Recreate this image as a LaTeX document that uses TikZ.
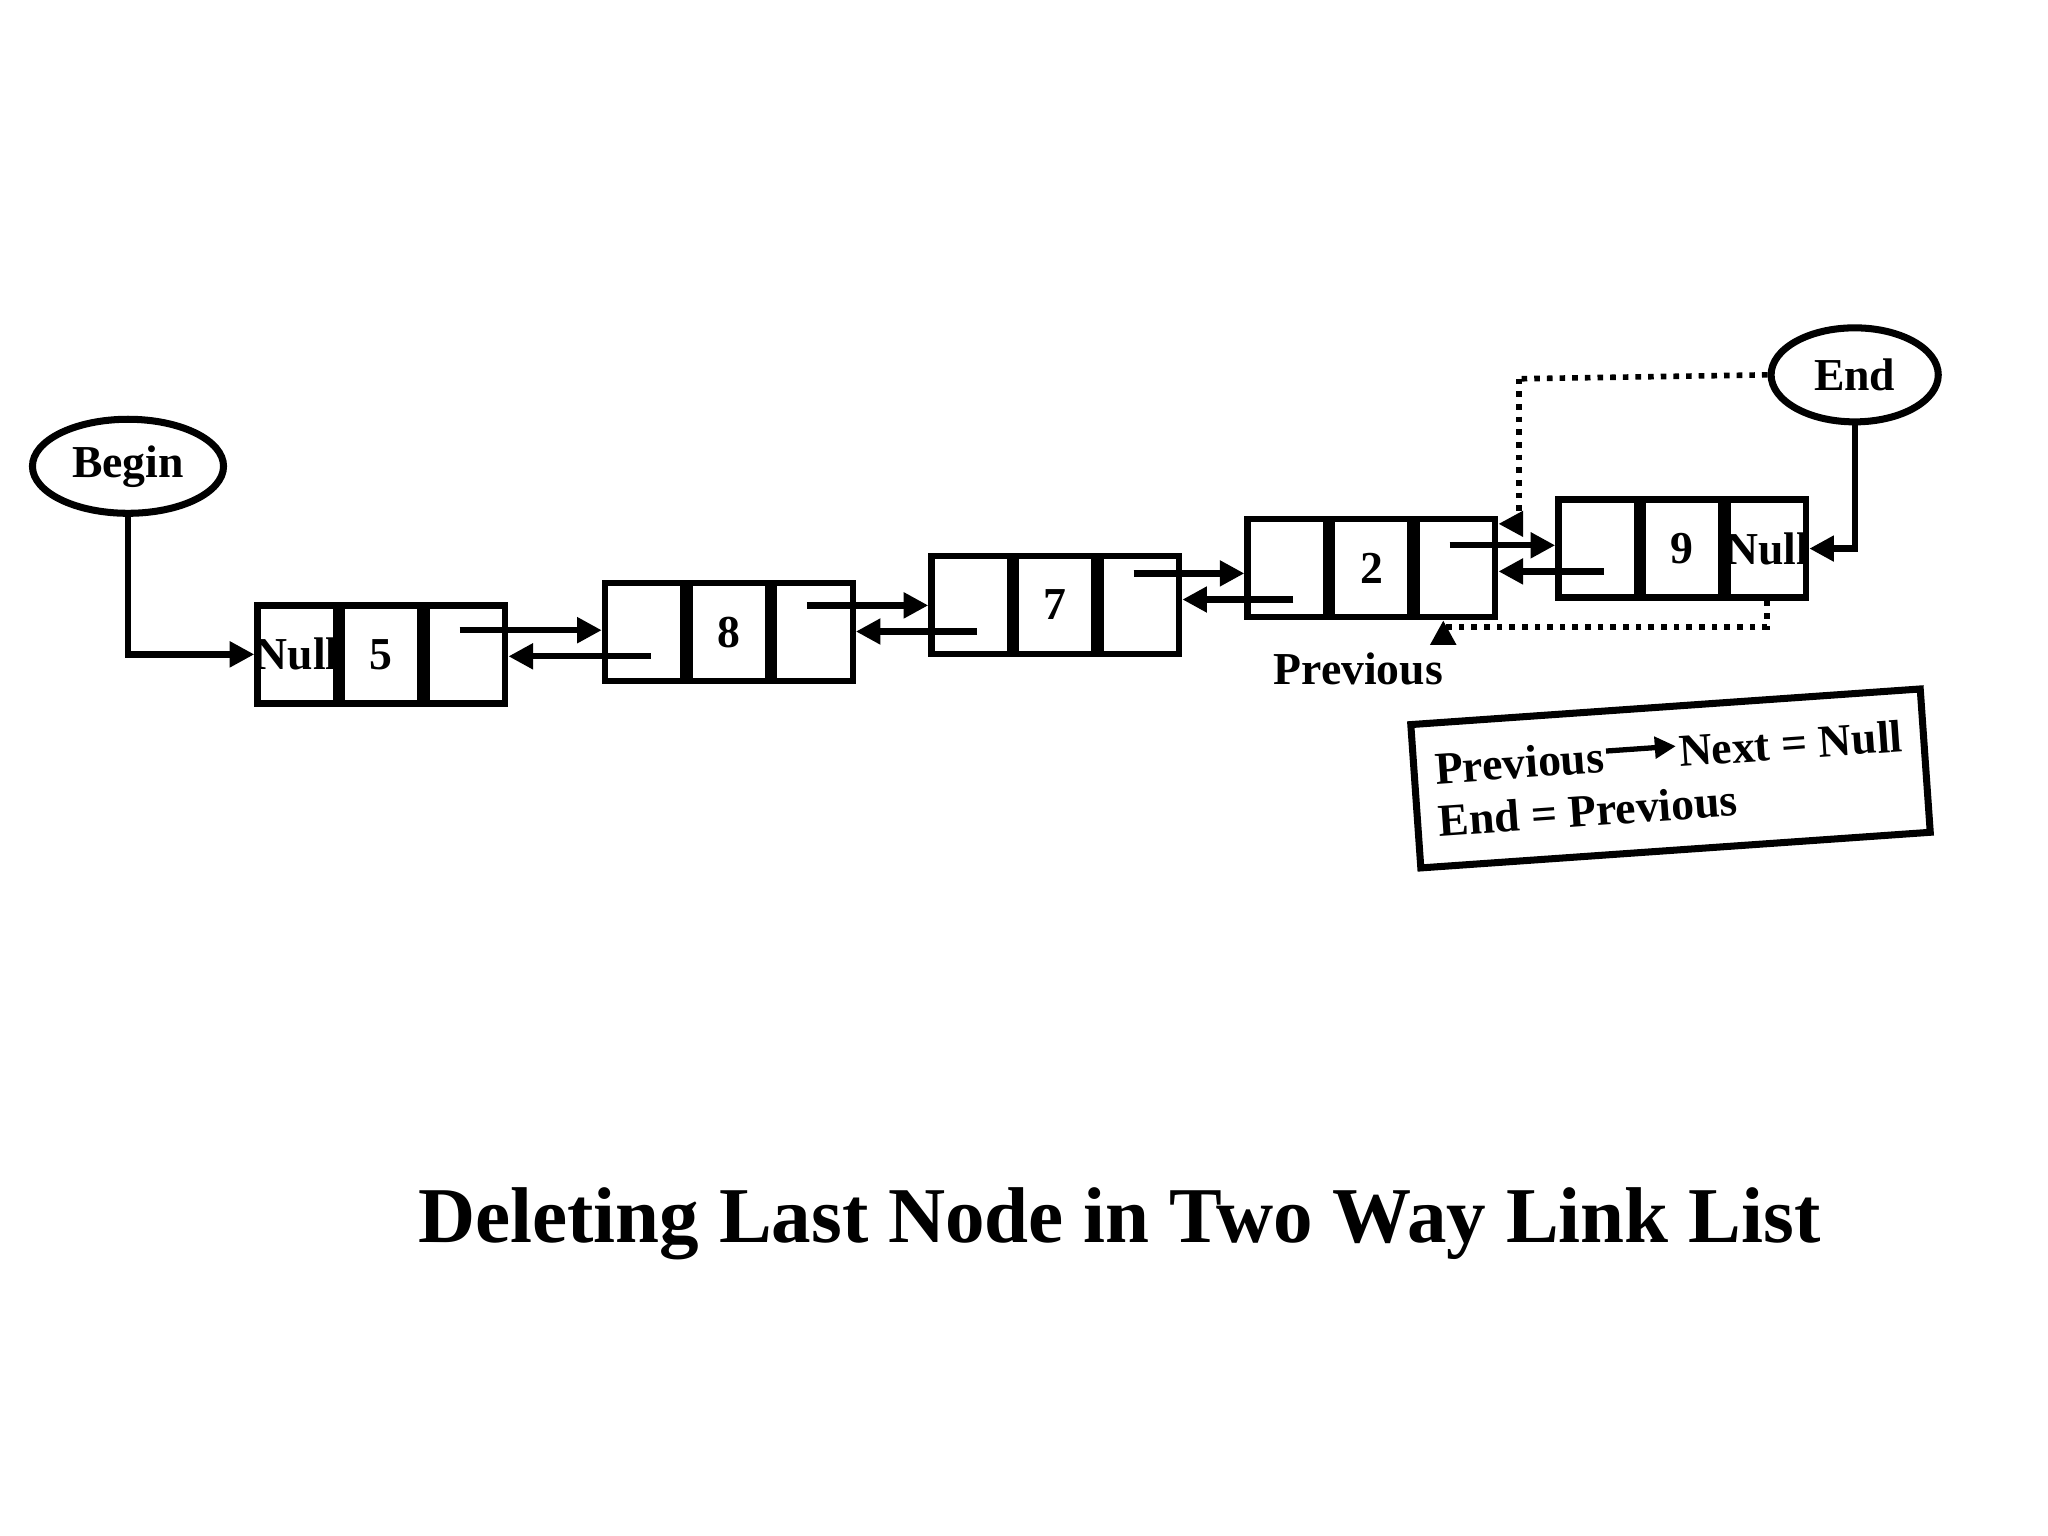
\documentclass[tikz,border=0pt]{standalone}
\usepackage{fontspec}
\setmainfont{Liberation Serif}
\usetikzlibrary{calc,arrows.meta,shapes.geometric}
\begin{document}
\begin{tikzpicture}[x=0.01306cm,y=-0.01306cm,
  cell/.style={draw,line width=1.8pt,minimum width=60*0.01306cm,text width=50*0.01306cm,align=center,minimum height=75*0.01306cm,inner sep=0pt,font=\bfseries\fontsize{13}{14}\selectfont},
  arr/.style={line width=1.8pt,-{Triangle[length=7pt,width=7pt]}},
  dots/.style={line width=1.6pt,dotted},
  ell/.style={draw,ellipse,line width=2pt,minimum width=128*0.01306cm,minimum height=72*0.01306cm,font=\bfseries\fontsize{13}{14}\selectfont}]
\useasboundingbox (0,0) rectangle (1568,1176);
\newcommand{\dnode}[6]{%
  \node[cell] (#1b) at (#2,#3) {#5};
  \node[cell,anchor=east] (#1a) at (#1b.west) {#4};
  \node[cell,anchor=west] (#1c) at (#1b.east) {#6};}
\dnode{n1}{292}{501}{\makebox[0pt]{Null}}{5}{}
\dnode{n2}{558}{484}{}{8}{}
\dnode{n3}{808}{463}{}{7}{}
\dnode{n4}{1050}{435}{}{2}{}
\dnode{n5}{1288}{420}{}{9}{\makebox[0pt]{Null}}
\node[ell] (begin) at (98,357) {Begin};
\node[ell] (end) at (1420,287) {End};
\draw[arr] (begin.south) |- (n1a.west);
\draw[arr] (end.south) |- (n5c.east);
\foreach \i/\j in {n1/n2,n2/n3,n3/n4,n4/n5}{
  \coordinate (m) at ($(\i c.center)!0.5!(\j a.center)$);
  \coordinate (s1) at ($(\i c.center |- m)+(-5,-10)$);
  \coordinate (s2) at ($(\j a.west |- m)+(0,-10)$);
  \draw[arr] (s1) -- (s2);
  \coordinate (t1) at ($(\j a.center |- m)+(5,10)$);
  \coordinate (t2) at ($(\i c.east |- m)+(0,10)$);
  \draw[arr] (t1) -- (t2);
}
\coordinate (d1) at (1163,290);
\draw[dots] (end.west) -- (d1);
\draw[dots,-{Triangle[length=7pt,width=7pt]}] (d1) |- ($(n4c.north east)+(0,6)$);
\coordinate (d2) at (1333,480);
\draw[dots] (n5c.south) -- (n5c.south |- d2) -- (1105,480);
\draw[arr] (1105,482) -- (n4c.south -| 1105,470);
\node[font=\bfseries\fontsize{13}{14}\selectfont] (prev) at (1040,512) {Previous};
\node[draw,line width=2pt,rotate=4,minimum width=380*0.01306cm,minimum height=110*0.01306cm,align=left,font=\bfseries\fontsize{13}{15}\selectfont,inner sep=6pt] (box) at (1279,596)
  {Previous\raisebox{0.5ex}{\tikz\draw[line width=1.5pt,-{Triangle[length=6pt,width=6pt]}] (0,0)--(0.7cm,0);}Next = Null\\End = Previous\hspace{3.2cm}};
\node[font=\bfseries\fontsize{22.5}{26}\selectfont] (title) at (857,937) {Deleting Last Node in Two Way Link List};
\end{tikzpicture}
\end{document}
